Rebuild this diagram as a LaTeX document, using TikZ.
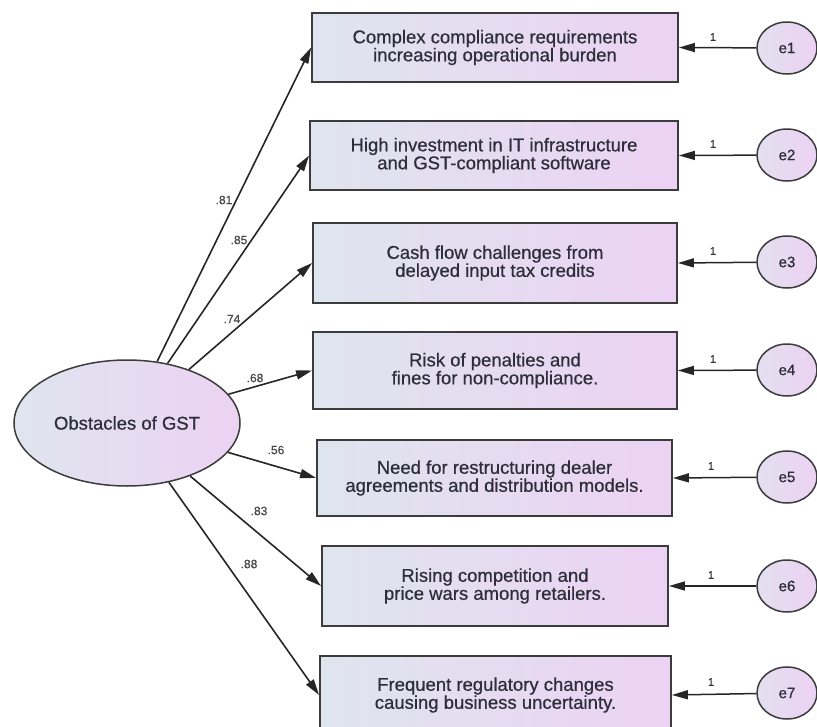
\documentclass[tikz,border=0pt]{standalone}
\usepackage{fontspec}
\setmainfont{Liberation Sans}[FakeBold=0.6]
\usetikzlibrary{arrows.meta,shapes.geometric}
\definecolor{lft}{HTML}{DFE5EE}
\definecolor{rgt}{HTML}{ECD2F3}
\definecolor{txt}{HTML}{2E2E3A}
\definecolor{edge}{HTML}{3C3C3C}
\definecolor{lbl}{HTML}{4A4A4A}
\tikzset{
  obsbox/.style={draw=edge, line width=1.8pt, rectangle, left color=lft, right color=rgt,
    align=center, text=txt, font=\fontsize{18.5}{18}\selectfont, inner sep=0pt},
  latent/.style={draw=edge, line width=1.5pt, ellipse, left color=lft, right color=rgt,
    text=txt, inner sep=0pt},
  errnode/.style={draw=edge, line width=1.5pt, ellipse, left color=lft!70!rgt, right color=rgt,
    text=txt, minimum width=60pt, minimum height=52pt, inner sep=0pt, font=\fontsize{15}{15}\selectfont},
  loadarrow/.style={draw=black!85, line width=1.6pt, -{Triangle[length=16pt,width=9pt]}},
  errarrow/.style={draw=black!85, line width=1.5pt, -{Triangle[length=16pt,width=9pt]}},
  coef/.style={text=lbl, font=\fontsize{12}{12}\selectfont, inner sep=0pt},
  one/.style={text=black!80, font=\fontsize{11}{11}\selectfont, inner sep=0pt}
}
\begin{document}
\begin{tikzpicture}[x=1pt,y=-1pt]
\useasboundingbox (0,0) rectangle (817,726);

\node[latent, minimum width=226pt, minimum height=126pt, font=\fontsize{18.5}{18}\selectfont] (main) at (127,423) {Obstacles of GST};

\node[obsbox, minimum width=366pt, minimum height=69pt] (b1) at (495,47.5) {Complex compliance requirements\\increasing operational burden};
\node[obsbox, minimum width=368pt, minimum height=69pt] (b2) at (494,155.5) {High investment in IT infrastructure\\and GST-compliant software};
\node[obsbox, minimum width=364pt, minimum height=80pt] (b3) at (495,263) {Cash flow challenges from\\delayed input tax credits};
\node[obsbox, minimum width=364pt, minimum height=77pt] (b4) at (495,370.5) {Risk of penalties and\\fines for non-compliance.};
\node[obsbox, minimum width=355pt, minimum height=76pt] (b5) at (494.5,478) {Need for restructuring dealer\\agreements and distribution models.};
\node[obsbox, minimum width=346pt, minimum height=80pt] (b6) at (495,586) {Rising competition and\\price wars among retailers.};
\node[obsbox, minimum width=351pt, minimum height=78pt] (b7) at (495.5,695) {Frequent regulatory changes\\causing business uncertainty.};

\node[errnode] (e1) at (787,48) {e1};
\node[errnode] (e2) at (787,155) {e2};
\node[errnode] (e3) at (787,262) {e3};
\node[errnode] (e4) at (787,370) {e4};
\node[errnode] (e5) at (787,477) {e5};
\node[errnode] (e6) at (787,586) {e6};
\node[errnode] (e7) at (787,693) {e7};

\foreach \i in {1,...,7} {
  \draw[loadarrow] (main) -- (b\i.west);
  \draw[errarrow] (e\i) -- (b\i.east);
}

\node[coef] (c1) at (224,200) {.81};
\node[coef] (c2) at (239,240) {.85};
\node[coef] (c3) at (232,319) {.74};
\node[coef] (c4) at (255,378) {.68};
\node[coef] (c5) at (276,450) {.56};
\node[coef] (c6) at (259,511) {.83};
\node[coef] (c7) at (249,564) {.88};

\node[one] (o1) at (713,37) {1};
\node[one] (o2) at (713,144) {1};
\node[one] (o3) at (713,251) {1};
\node[one] (o4) at (713,359) {1};
\node[one] (o5) at (711,466) {1};
\node[one] (o6) at (711,575) {1};
\node[one] (o7) at (711,682) {1};
\end{tikzpicture}
\end{document}
